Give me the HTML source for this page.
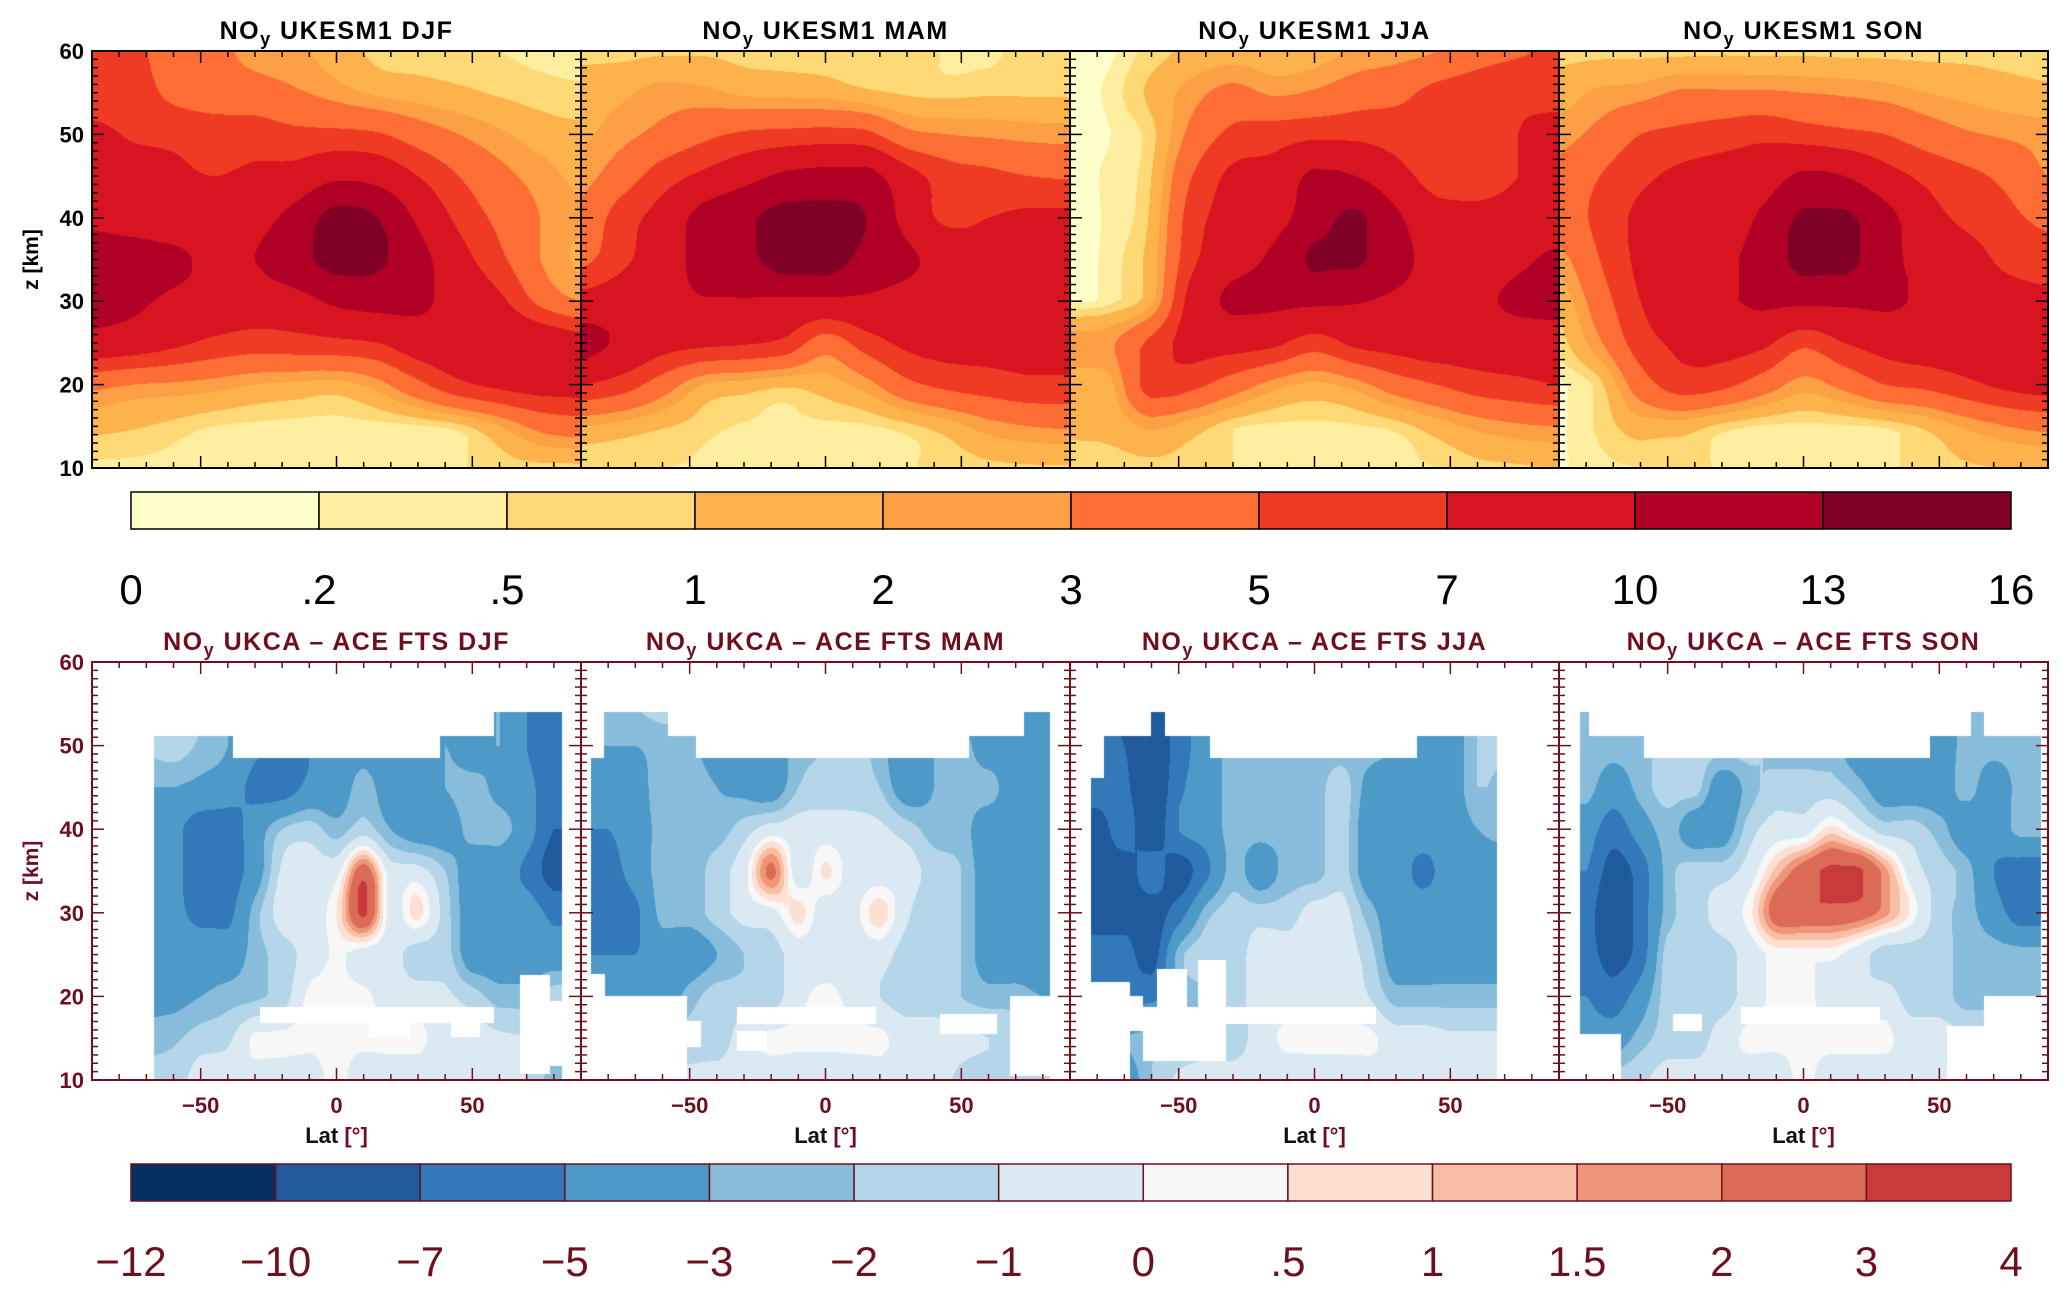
<!DOCTYPE html>
<html><head><meta charset="utf-8"><title>NOy UKESM1 vs ACE-FTS</title>
<style>
html,body{margin:0;padding:0;background:#fff;}
#root{position:relative;width:2067px;height:1295px;overflow:hidden;background:#fff;font-family:"Liberation Sans",sans-serif;}
canvas{position:absolute;}
svg{position:absolute;left:0;top:0;}
</style></head>
<body>
<div id="root">
<canvas id="c0"></canvas>
<canvas id="c1"></canvas>
<canvas id="c2"></canvas>
<canvas id="c3"></canvas>
<canvas id="c4"></canvas>
<canvas id="c5"></canvas>
<canvas id="c6"></canvas>
<canvas id="c7"></canvas>
<svg id="ov" width="2067" height="1295"></svg>
</div>
<script>
// ---------- data ----------
const seasons = ["DJF","MAM","JJA","SON"];
const topLevels = [0,0.2,0.5,1,2,3,5,7,10,13,16];
const topLabels = ["0",".2",".5","1","2","3","5","7","10","13","16"];
const topColors = ["#ffffcc","#ffeda0","#fed976","#feb24c","#fd9f44","#fc6e33","#f03b24","#d7141f","#b00026","#800026"];
const diffLevels = [-12,-10,-7,-5,-3,-2,-1,0,0.5,1,1.5,2,3,4];
const diffLabels = ["\u221212","\u221210","\u22127","\u22125","\u22123","\u22122","\u22121","0",".5","1","1.5","2","3","4"];
const diffColors = ["#053061","#1f5a9c","#3378b8","#4d9ac8","#87bddb","#b4d6e8","#dbeaf2","#f7f7f7","#fde0d2","#f8bfa5","#ee9677","#dc6b55","#c93a3a"];
// top grids: rows alt 60..10 step 5, cols lat -90..90 step 15 (ppbv)
const topDJF = [
[6,5.5,4,3.5,2.5,2.2,1.5,0.8,0.7,0.6,0.5,0.4,0.35],
[6,6,4.5,4,3.8,3.2,2.5,1.8,1.5,1.2,0.9,0.7,0.6],
[7.5,6.8,6.5,6,6,5.5,5.5,5.2,4,3,2.2,1.5,1.2],
[8,8,7.5,7,7.5,8,9.5,9,7,5,3.5,2.5,1.7],
[9.5,9,8.5,8.5,9,11,14,13,9.5,6.5,4.5,3,2.2],
[11,11,10.5,9.5,10,12,14,13.5,11,8,5.5,3,1.8],
[11,10.5,9.5,9,8.5,9,10.5,11,10.5,9,7.5,4.5,3],
[9,8.5,7.5,6.5,6,6.2,6.5,7,8.5,9,9.5,9,8],
[3.5,3,2.8,2.5,2,1.8,1.6,2.5,4.5,6.5,7.5,8,8],
[1.3,1.1,0.8,0.5,0.4,0.35,0.35,0.35,0.45,0.8,2,3.5,4],
[0.4,0.4,0.4,0.35,0.3,0.3,0.3,0.3,0.3,0.45,0.7,0.8,0.8]];
const topMAM = [
[0.8,0.8,0.9,0.9,0.8,0.8,0.8,0.8,0.7,0.45,0.4,0.7,0.8],
[1.5,1.8,2.4,2.3,1.8,1.7,1.6,1.2,0.9,0.8,0.9,0.9,0.9],
[1.8,2.6,3.5,4.5,5.3,5.6,5.8,5.5,3.5,3,2.8,2.6,2.5],
[2.5,4,6,7.5,9,10.5,11,11,8,6,5.5,5,4.8],
[3.5,6,8,11,12.5,14,14,13,9,6.5,7,7.5,7.5],
[4.5,6.5,8.5,11,12,14.5,14.5,12,10.5,9,8.5,8.5,8.5],
[8,8.5,9,9.8,9.8,9.5,9.5,9.5,9,8.5,8.5,8.5,8.5],
[11,9.5,8,7.5,7.2,6.5,4,6,7.5,8,8,8,8],
[7,6,4,2,1.6,1.2,1.5,2.5,4.5,5.5,6,6.5,6.5],
[2,1.6,1.1,0.7,0.45,0.4,0.4,0.45,0.8,1.5,2.5,3,3.2],
[0.5,0.5,0.5,0.45,0.35,0.3,0.2,0.3,0.45,0.6,0.8,0.9,0.9]];
const topJJA = [
[0.1,0.15,0.7,1.2,1.5,1.3,1.5,2.2,2.5,3,4.2,4.8,5.2],
[0.1,0.3,1.2,2.5,3.5,2.8,3.2,4,4.5,5.5,6,6.5,6.5],
[0.1,0.2,0.8,3.5,5.5,6,6.5,6.5,6,5,5.5,7,7.5],
[0.1,0.3,1,5,7.5,8,10.5,10,8,6,5.5,7,8],
[0.1,0.3,1.2,6,8,9,11.5,13.5,10.5,8,8,8.5,8.5],
[0.1,0.35,1.5,6.5,9,10.5,13.5,13.5,11,9,8.5,9.5,10.5],
[0.15,0.4,1.8,8,10.5,10.5,10.5,10.2,9.5,9,9.5,10.5,11],
[2.5,2.8,5.5,8,8,7.5,6,7.5,8,8.5,8.5,8.5,8.5],
[1.5,1.8,6,5.5,4,2.5,1.8,2.5,4,5,6,6.5,7],
[1.2,1.3,2.2,1.5,0.6,0.4,0.4,0.45,0.7,1.5,2.3,2.8,3],
[0.6,0.7,0.8,0.7,0.5,0.35,0.35,0.35,0.4,0.5,0.8,0.9,1.0]];
const topSON = [
[0.8,0.8,0.8,0.8,0.85,0.85,0.85,0.8,0.8,0.8,0.8,0.75,0.7],
[1.5,2.2,2.5,3.2,3.2,3.2,3,2.8,2.5,2,1.7,1.4,1.2],
[2.5,3.5,5,5.5,6,6.5,6,5.5,5,4,3.2,2.8,2.5],
[3.5,5,6.5,7.5,8,8.5,10.5,10,8,6.5,5.5,4.5,3],
[4,5.5,7.5,8,8.5,10.5,13.5,13.5,11,8,6.5,5.5,4.5],
[2.5,5,7.5,8.5,9.5,11,14,14,11,9,8,6.5,6],
[1.3,4,7,8.5,9.5,10.5,10.5,10.5,10.5,9.5,8.5,8,7.5],
[0.7,2.8,6,7.5,8,7.5,5.5,7,8,8.5,8.5,8.5,8.5],
[0.15,0.8,4,6,5.5,4,2.5,3.5,5,5.5,6.5,7.5,8],
[0.15,0.6,1.5,1.5,0.8,0.45,0.4,0.45,0.6,1.2,2.2,3,3.5],
[0.15,0.4,0.5,0.6,0.45,0.35,0.3,0.35,0.4,0.7,0.9,1.0,1.0]];
// difference grids: rows alt 60..10 step 5, cols lat -90..90 step 10
const diffDJF = [
[-2,-2,-1.5,-1.5,-2,-3,-4,-5,-4.5,-4,-3.5,-4,-4,-3.5,-4,-3,-5,-6,-6],
[-2,-2,-1.5,-1.5,-2,-3,-4,-5,-4.5,-4,-3.5,-4,-4,-3.5,-4,-3,-5,-6,-6],
[-2,-2,-1.8,-1.5,-2.2,-3,-4.5,-5.5,-5,-3.5,-3.5,-4,-4,-3,-4,-3,-5,-6,-6],
[-3,-3,-3,-3,-3.5,-4,-5.5,-6,-4.5,-4,-2.5,-4,-4,-3,-2.5,-3.5,-4.5,-6,-6],
[-4,-4,-4,-4.5,-6,-6,-4,-2,-1.5,-2.5,-1.5,-3,-4,-4,-2.5,-2.5,-4,-7,-7],
[-4,-4,-4,-4.5,-6,-6,-4,-0.8,-0.5,-0.3,2.5,-0.5,-0.6,-2,-4,-4,-5.5,-8,-8],
[-4,-4,-4,-4.5,-5.5,-5.5,-2.5,-0.5,-0.4,0.5,3.2,-0.3,0.7,-1.5,-4,-4,-4,-5.5,-5.5],
[-4,-4,-4,-4,-4,-4,-2.5,-1.5,-0.6,0.1,-0.4,-0.6,-1.5,-1.5,-4,-4,-4,-4,-4],
[-3.5,-3.5,-3.5,-3.5,-3,-2.5,-2.2,-1.5,0.2,0.3,0.2,-0.5,-0.5,-0.8,-1.5,-2.5,-2.5,-1.5,-1.5],
[-2.5,-2.5,-2.5,-2.2,-1.5,-1.2,0.2,0.2,0.2,0.2,0.2,0.2,0.2,-0.5,-0.5,-0.8,-1,-1.5,-1.5],
[-1.5,-1.5,-1.5,-1.5,-0.5,-0.5,-0.5,-0.5,-0.4,0.2,-0.5,-0.5,-0.5,-0.5,-0.5,-0.6,-1,-2.5,-2.5]];
const diffMAM = [
[-3,-3,-2,-1.5,-1.5,-2.5,-3.5,-3.5,-3,-2,-2,-2,-2,-2.5,-3.5,-4,-4,-4.5,-4.5],
[-3,-3,-2,-1.5,-1.5,-2.5,-3.5,-3.5,-3,-2,-2,-2,-2,-2.5,-3.5,-4,-4,-4.5,-4.5],
[-3,-3,-3,-2.5,-2.5,-4,-4.5,-4,-2.5,-2,-1.5,-2.5,-4,-3,-2.5,-4,-4,-4.5,-4.5],
[-4.5,-4.5,-4,-2,-2,-3,-3.5,-4,-2,-1.5,-1.5,-2,-4,-3,-2.5,-2.5,-4,-4.5,-4.5],
[-5,-5,-4,-2.5,-2.5,-2.5,-1.5,-0.5,-0.5,-0.5,-0.6,-0.8,-1.5,-2.5,-2.5,-4,-4,-4,-4],
[-6,-6,-4,-2.5,-2.5,-1.5,-0.3,2.2,-0.5,0.6,-0.4,-0.5,-0.5,-1.5,-2,-4,-4,-4,-4],
[-7,-7,-5.5,-2.5,-2.5,-1.5,-0.6,-0.3,0.7,-0.5,-0.3,0.8,-0.8,-2,-2,-4,-4,-4,-4],
[-5,-5,-5,-4,-4,-3,-2,-1.5,-0.5,-0.5,-0.5,-0.5,-1.5,-1.5,-2,-4,-4,-4,-4],
[-4,-4,-4,-4,-2.5,-1.5,-1.5,-1.5,-0.3,0.2,-0.3,-1,-1.5,-1.5,-2,-2.5,-2.5,-3,-3],
[-2,-2,-2,-2,-1.5,-1.5,-0.5,0.2,0.2,0.2,0.2,0.2,-0.5,-0.5,-0.8,-1,-1.2,-1.5,-1.5],
[-1,-1,-1,-1,-0.8,-0.6,-0.6,-0.6,-0.6,-0.5,-0.5,-0.5,-0.5,-0.6,-1.2,-1.5,-1.5,-1.5,-1.5]];
const diffJJA = [
[-6,-6,-8,-9,-6,-4,-2.5,-2.5,-2.5,-2.5,-2.5,-2.5,-3,-3.5,-4,-2,-1.5,-1.5,-1.5],
[-6,-6,-8,-9,-6,-4,-2.5,-2.5,-2.5,-2.5,-2.5,-2.5,-3,-3.5,-4,-2,-1.5,-1.5,-1.5],
[-6,-6,-7,-9,-6,-4,-2.5,-2.5,-2.5,-2.5,-2.5,-2.5,-3,-4,-4,-2,-1.5,-1.5,-1.5],
[-6,-6,-6.5,-9,-5.5,-4,-2.5,-2.5,-2.5,-2.5,-1.5,-3.5,-4,-4,-4,-2,-2.5,-2.5,-2.5],
[-8,-8,-6,-8.5,-5,-4,-2.5,-2.5,-2.5,-2.5,-1.5,-4,-4,-4,-4,-3,-2.5,-2.5,-2.5],
[-8,-8,-8,-6,-8,-5.5,-2.5,-4,-2.5,-2.5,-1.5,-4,-4,-5.5,-4,-4,-4,-4,-4],
[-8,-8,-8,-8,-6,-2.5,-1.5,-1.5,-1.5,-0.5,-0.5,-2.5,-4,-4,-4,-4,-4,-4,-4],
[-6,-6,-6,-8,-2.5,-1.5,-1.5,-0.5,-0.5,-0.5,-0.5,-1.5,-4,-4,-4,-4,-4,-4,-4],
[-5,-5,-5,-5.5,-3,-2,-1.5,-0.5,-0.5,-0.5,-0.5,-1,-2.5,-2.5,-2.5,-2.5,-2.5,-2.5,-2.5],
[-3,-3,-3,-2.5,-2,-1.5,-1.5,-0.5,0.2,0.2,0.2,0.2,-0.5,-0.5,-0.8,-0.8,-0.8,-0.8,-0.8],
[-4,-4,-4,-2,-0.8,-0.6,-0.6,-0.6,-0.6,-0.5,-0.5,-0.5,-0.5,-0.6,-0.6,-0.6,-0.6,-0.6,-0.6]];
const diffSON = [
[-2.5,-2.5,-2.5,-2.5,-1.5,-1.5,-1.5,-1.5,-2.5,-2.5,-2.5,-4,-4,-4,-4,-2.5,-2.5,-2.5,-2.5],
[-2.5,-2.5,-2.5,-2.5,-1.5,-1.5,-1.5,-1.5,-2.5,-2.5,-2.5,-4,-4,-4,-4,-2.5,-2.5,-2.5,-2.5],
[-2.5,-2.5,-2.5,-2.5,-1.5,-1.5,-1.5,-1.5,-2.5,-2.5,-2.5,-4,-4,-4,-4,-2.5,-2.5,-2.5,-2.5],
[-3,-2.5,-4,-2.5,-1.5,-1.5,-4,-2.5,-1.5,-1.5,-1.5,-2.5,-4,-4,-4,-2.5,-4,-2.5,-2.5],
[-4,-4,-6,-4,-2.5,-4,-4,-1.5,-0.5,-0.5,0.7,-0.3,-1.5,-1.5,-2.5,-4,-4,-2.5,-2.5],
[-6,-5,-8,-6,-2.5,-1.5,-1.5,-0.5,1.2,2.5,3.2,3.2,1.7,-0.5,-1.5,-2.5,-5,-6,-6],
[-6,-6,-9,-6,-2.5,-1.5,-0.5,0.3,2.5,2.7,2.7,2.5,1.7,0.3,-1.5,-2.5,-4,-6,-6],
[-6,-6,-8,-6,-1.5,-1.5,-1.5,-0.5,0.2,0.2,0.2,-0.5,-1.5,-1.5,-1.5,-2.5,-2.5,-2.5,-2.5],
[-5,-5,-6,-4,-1.5,-1.5,-1.5,-0.5,0.2,0.2,-0.3,-0.5,-0.5,-1.5,-1.5,-2.5,-2.5,-2.5,-2.5],
[-4,-4,-4,-2.5,-1.5,-1.5,-0.5,0.2,0.2,0.2,0.2,0.2,0.2,-0.5,-0.5,-0.8,-0.8,-0.8,-0.8],
[-1.5,-1.5,-1.5,-1.2,-0.5,-0.5,-0.5,-0.5,-0.5,0.2,-0.5,-0.5,-0.5,-0.5,-0.5,-0.5,-0.5,-0.5,-0.5]];
// data coverage (lat range, top-of-data steps [lat0,lat1,ztop], no-data holes [lat0,lat1,z0,z1])
const covDJF = {lat:[-67,83], tops:[[-67,-38,51.1],[-38,38,48.5],[38,58,51.1],[58,83,54]],
 holes:[[-28,58,16.8,18.7],[12,27,15.2,16.8],[42,53,15.2,16.8],[67.6,78.6,10.7,22.5],[78.6,83,11.7,19.4]]};
const covMAM = {lat:[-86.5,82.7], tops:[[-86.5,-81.5,48.5],[-81.5,-58,54],[-58,-47.8,51.1],[-47.8,53,48.5],[53,73,51.1],[73,82.7,54]],
 holes:[[-86.5,-51,10,20.1],[-86.5,-81,20.1,22.7],[-51,-46,14,17],[-32.6,18.5,16.7,18.7],[-32.6,-22,13.5,15.9],[42,63,15.5,17.9],[68,82.7,10.5,20.1]]};
const covJJA = {lat:[-82.3,67], tops:[[-82.3,-77.6,46.1],[-77.6,-60,51.1],[-60,-55,54],[-55,-38.4,51.1],[-38.4,37.7,48.5],[37.7,67,51.1]],
 holes:[[-82.3,-68,10,21.7],[-68,-63,15.9,20.1],[-63,-32.6,12.3,18.7],[-58,-47,18.7,23.3],[-43,-32.6,18.7,24.3],[-32.6,22.5,16.7,18.7]]};
const covSON = {lat:[-82.3,87.6], tops:[[-82.3,-78.8,54],[-78.8,-58.8,51.1],[-58.8,46.6,48.5],[46.6,61.8,51.1],[61.8,66.5,54],[66.5,87.6,51.1]],
 holes:[[-82.3,-67,10,15.5],[-48,-37.5,15.9,17.9],[-23,28,16.7,18.7],[66.5,87.6,10,20.1],[53,66.5,10,16.5]]};
const xTickLabels = [-50,0,50];
const yTickLabels = [10,20,30,40,50,60];

// ---------- layout ----------
const PX = [92,581,1070,1559], PW = 489;
const TOP = {y0:51, y1:468}, BOT = {y0:662, y1:1080};
const CB = {x0:131, x1:2011};
const MAROON = "#6e0f1e";
function xScale(k, lat){ return PX[k] + (lat+90)/180*PW; }
function yScale(p, z){ return p.y0 + (60-z)/50*(p.y1-p.y0); }
function latOf(px){ return px/PW*180-90; }
function zOf(p, py){ return 60 - py/(p.y1-p.y0)*50; }

function cr(p0,p1,p2,p3,t){
  const v = p1 + 0.5*t*(p2-p0 + t*(2*p0-5*p1+4*p2-p3 + t*(3*(p1-p2)+p3-p0)));
  return Math.max(Math.min(p1,p2), Math.min(Math.max(p1,p2), v));
}
function sample(g, step, lat, z){
  const nr=g.length, nc=g[0].length;
  const fc=(lat+90)/step, fr=(60-z)/5;
  const c=Math.max(0,Math.min(nc-2,Math.floor(fc))), r=Math.max(0,Math.min(nr-2,Math.floor(fr)));
  const tc=Math.max(0,Math.min(1,fc-c)), tr=Math.max(0,Math.min(1,fr-r));
  const cl=i=>Math.max(0,Math.min(nc-1,i)), rl=i=>Math.max(0,Math.min(nr-1,i));
  const rows=[];
  for(let j=-1;j<=2;j++){ const row=g[rl(r+j)]; rows.push(cr(row[cl(c-1)],row[cl(c)],row[cl(c+1)],row[cl(c+2)],tc)); }
  return cr(rows[0],rows[1],rows[2],rows[3],tr);
}
function hex(h){ return [parseInt(h.substr(1,2),16),parseInt(h.substr(3,2),16),parseInt(h.substr(5,2),16)]; }
function levelIndex(levels,v){ let i=0; while(i<levels.length-2 && v>=levels[i+1]) i++; return i; }
function covered(cov, lat, z){
  if(lat<cov.lat[0]||lat>cov.lat[1]) return false;
  for(const t of cov.tops){ if(lat>=t[0]&&lat<t[1]&&z>t[2]) return false; }
  for(const h of cov.holes){ if(lat>=h[0]&&lat<=h[1]&&z>=h[2]&&z<=h[3]) return false; }
  return true;
}
function drawField(id, k, p, g, step, levels, colors, cov){
  const cv=document.getElementById(id);
  const w=PW, h=p.y1-p.y0;
  cv.width=w; cv.height=h;
  cv.style.left=PX[k]+"px"; cv.style.top=p.y0+"px";
  const ctx=cv.getContext("2d"), img=ctx.createImageData(w,h), rgb=colors.map(hex);
  for(let y=0;y<h;y++){ const z=zOf(p,y+0.5);
    for(let x=0;x<w;x++){ const lat=latOf(x+0.5); let col=[255,255,255];
      if(!cov || covered(cov,lat,z)){ col=rgb[levelIndex(levels,sample(g,step,lat,z))]; }
      const o=(y*w+x)*4; img.data[o]=col[0]; img.data[o+1]=col[1]; img.data[o+2]=col[2]; img.data[o+3]=255; } }
  ctx.putImageData(img,0,0);
}
const topGrids=[topDJF,topMAM,topJJA,topSON], diffGrids=[diffDJF,diffMAM,diffJJA,diffSON], covs=[covDJF,covMAM,covJJA,covSON];
for(let k=0;k<4;k++){
  drawField("c"+k,k,TOP,topGrids[k],15,topLevels,topColors,null);
  drawField("c"+(k+4),k,BOT,diffGrids[k],10,diffLevels,diffColors,covs[k]);
}

// ---------- axes / text ----------
const NS="http://www.w3.org/2000/svg", ov=document.getElementById("ov");
function mk(tag, attrs, parent){ const e=document.createElementNS(NS,tag); for(const a in attrs) e.setAttribute(a,attrs[a]); (parent||ov).appendChild(e); return e; }
function drawAxes(p, color, bottomRow){
  const g=mk("g",{});
  
  
  const X0=PX[0], X1=PX[3]+PW;
  const fr=mk("rect",{x:X0,y:p.y0,width:X1-X0,height:p.y1-p.y0,fill:"none",stroke:color,"stroke-width":2},g);
  
  
  for(let k=1;k<4;k++){ const l=mk("line",{x1:PX[k],x2:PX[k],y1:p.y0,y2:p.y1,stroke:color,"stroke-width":2},g);
    
     }
  for(let k=0;k<4;k++){
    for(let lat=-80;lat<=80;lat+=10){ const x=xScale(k,lat), len=(lat%50===0)?12:6;
      mk("line",{x1:x,x2:x,y1:p.y1,y2:p.y1-len,stroke:color,"stroke-width":1.5},g);
      mk("line",{x1:x,x2:x,y1:p.y0,y2:p.y0+len,stroke:color,"stroke-width":1.5},g); }
  }
  for(let z=10;z<=60;z+=1){ const y=yScale(p,z), len=(z%10===0)?12:6;
    for(let k=0;k<4;k++){ mk("line",{x1:PX[k],x2:PX[k]+len,y1:y,y2:y,stroke:color,"stroke-width":1.5},g);
      if(k>0) mk("line",{x1:PX[k]-len,x2:PX[k],y1:y,y2:y,stroke:color,"stroke-width":1.5},g); }
    mk("line",{x1:PX[3]+PW-len,x2:PX[3]+PW,y1:y,y2:y,stroke:color,"stroke-width":1.5},g);
  }
  for(const v of yTickLabels){ const t=mk("text",{x:84,y:yScale(p,v)+8,"text-anchor":"end","font-size":22,"font-weight":"bold",fill:color},g);
    t.textContent=v;
    
     }
  const yl=mk("text",{x:0,y:0,transform:"translate(38,"+((p.y0+p.y1)/2)+") rotate(-90)","text-anchor":"middle","font-size":21,"font-weight":"bold",fill:color},g);
  yl.textContent="z [km]";
  
  
  if(bottomRow){
    for(let k=0;k<4;k++){
      for(const v of xTickLabels){ const t=mk("text",{x:xScale(k,v),y:p.y1+33,"text-anchor":"middle","font-size":22,"font-weight":"bold",fill:color},g);
        t.textContent=(v<0?"\u2212":"")+Math.abs(v);
        
         }
      const xl=mk("text",{x:xScale(k,0),y:p.y1+63,"text-anchor":"middle","font-size":22,"font-weight":"bold",fill:color},g);
      const a=mk("tspan",{fill:"#111"},xl); a.textContent="Lat ";
      const b=mk("tspan",{},xl); b.textContent="[\u00b0]";
      
      
    }
  }
  for(let k=0;k<4;k++){
    const t=mk("text",{x:PX[k]+PW/2,y:p.y0-12,"text-anchor":"middle","font-size":25,"font-weight":"bold","letter-spacing":1.5,fill:color},g);
    const t1=mk("tspan",{},t); t1.textContent="NO";
    const t2=mk("tspan",{dy:6,"font-size":18},t); t2.textContent="y";
    const t3=mk("tspan",{dy:-6},t); t3.textContent=(bottomRow?"  UKCA \u2013 ACE FTS ":"  UKESM1  ")+seasons[k];
    t.setAttribute("xml:space","preserve");
    
    
  }
}
drawAxes(TOP,"#000",false);
drawAxes(BOT,MAROON,true);

function drawColorbar(y0,y1,colors,labels,border,txtColor,labelY,name){
  const g=mk("g",{});
  
  
  const n=colors.length, w=(CB.x1-CB.x0)/n;
  for(let i=0;i<n;i++){ const r=mk("rect",{x:CB.x0+i*w,y:y0,width:w,height:y1-y0,fill:colors[i],stroke:border,"stroke-width":1.5},g);
    
     }
  for(let i=0;i<labels.length;i++){ const t=mk("text",{x:CB.x0+i*w,y:labelY,"text-anchor":"middle","font-size":42,fill:txtColor},g);
    t.textContent=labels[i];
    
     }
}
drawColorbar(492,529,topColors,topLabels,"#000","#000",604,"model-colorbar");
drawColorbar(1164,1201,diffColors,diffLabels,MAROON,MAROON,1276,"diff-colorbar");
</script>
</body></html>
